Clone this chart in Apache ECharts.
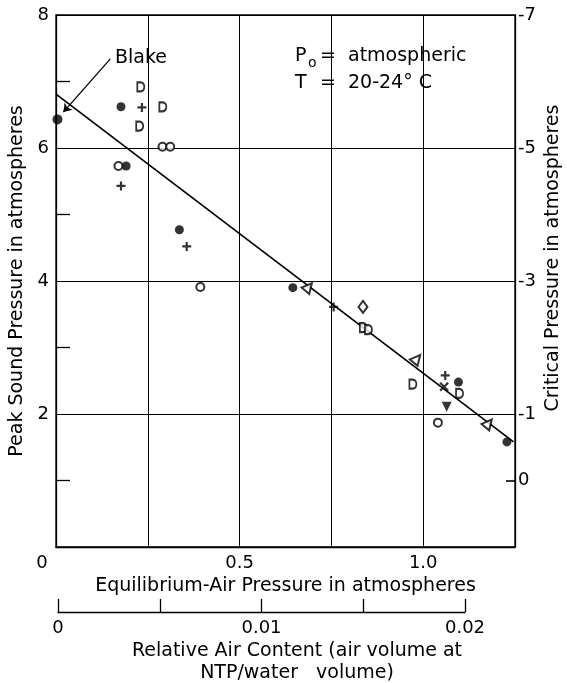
<!DOCTYPE html>
<html>
<head>
  <meta charset="utf-8">
</head>
<body style="margin: 0; background: #fff">
  <div id="container" style="width: 567px; height: 683px"></div>

  <script src="https://cdn.jsdelivr.net/npm/echarts@6/dist/echarts.min.js"></script>
  <script type="text/javascript">
    // values: [equilibrium-air pressure (atm), peak sound pressure (atm)]
    const blakePts = [[0.004, 6.43]];
    const filledCircles = [[0.177, 6.62], [0.191, 5.73], [0.336, 4.77], [0.645, 3.90], [1.096, 2.48], [1.228, 1.58]];
    const openCircles = [[0.170, 5.73], [0.290, 6.02], [0.311, 6.02], [0.393, 3.91], [1.040, 1.87]];
    const plusPts = [[0.234, 6.61], [0.177, 5.43], [0.356, 4.52], [0.756, 3.61], [1.060, 2.58]];
    const dPts = [[0.231, 6.92], [0.228, 6.33], [0.291, 6.62], [0.837, 3.30], [0.851, 3.27], [0.972, 2.45], [1.099, 2.31]];
    const trianglePts = [[0.688, 3.91], [0.983, 2.83], [1.178, 1.86]];
    const diamondPts = [[0.836, 3.61]];
    const crossPts = [[1.057, 2.41]];
    const downTrianglePts = [[1.064, 2.11]];
    const fitLine = [[0, 6.81], [1.246, 1.58]];
    // Blake annotation arrow (start, end) in data units
    const blakeArrow = [[0.148, 7.34], [0.02, 6.54]];

    const xLabels = ['0', '0.5', '1.0'];          // main x axis
    const yLabels = [2, 4, 6, 8];                 // left axis
    const rightLabels = [-7, -5, -3, -1, 0];      // critical pressure axis
    const airLabels = ['0', '0.01', '0.02'];      // relative air content

    const FONT = 'DejaVu Sans';
    const INK = '#000';

    var dom = document.getElementById('container');
    var myChart = echarts.init(dom, null, { renderer: 'canvas' });

    const openStyle = { color: '#fff', borderColor: INK, borderWidth: 2 };
    const strokeStyle = { color: INK, borderColor: INK, borderWidth: 2.2 };

    function scatter(name, data, symbol, size, style, extra) {
      return Object.assign({
        name: name,
        type: 'scatter',
        data: data,
        symbol: symbol,
        symbolSize: size,
        itemStyle: style,
        z: 5
      }, extra || {});
    }

    var option = {
      animation: false,
      backgroundColor: '#fff',
      textStyle: { fontFamily: FONT, color: INK },
      grid: [
        { left: 56, right: 52, top: 15, bottom: 136, show: true, borderColor: INK, borderWidth: 1.3, outerBoundsMode: 'none' },
        { left: 58, right: 102, top: 600, height: 12, outerBoundsMode: 'none' }
      ],
      xAxis: [
        {
          type: 'value', gridIndex: 0, min: 0, max: 1.25, interval: 0.25,
          axisLine: { show: true, lineStyle: { color: INK, width: 1.3 } },
          axisTick: { show: false },
          splitLine: { show: true, lineStyle: { color: INK, width: 1 } },
          axisLabel: {
            margin: 7, fontSize: 18, color: INK, fontFamily: FONT,
            formatter: function (v) {
              var i = Math.round(v / 0.5);
              if (Math.abs(v - i * 0.5) > 1e-6 || i > 2) return '';
              return i === 0 ? '{z|' + xLabels[0] + '}' : xLabels[i];
            },
            rich: { z: { fontSize: 18, fontFamily: FONT, color: INK, padding: [0, 28, 0, 0] } }
          },
          name: 'Equilibrium-Air Pressure in atmospheres',
          nameLocation: 'middle', nameGap: 27,
          nameTextStyle: { fontSize: 19, color: INK, fontFamily: FONT }
        },
        {
          type: 'value', gridIndex: 1, min: 0, max: 0.02, interval: 0.005,
          axisLine: { show: true, lineStyle: { color: INK, width: 1.3 } },
          axisTick: { show: true, inside: true, length: 13, lineStyle: { color: INK, width: 1.3 } },
          splitLine: { show: false },
          axisLabel: {
            margin: 7, fontSize: 18, color: INK, fontFamily: FONT, showMaxLabel: true,
            formatter: function (v) {
              var i = Math.round(v / 0.01);
              if (Math.abs(v - i * 0.01) > 1e-7) return '';
              return airLabels[i] || '';
            }
          }
        }
      ],
      yAxis: [
        {
          type: 'value', gridIndex: 0, min: 0, max: 8, interval: 2, position: 'left',
          axisLine: { show: true, lineStyle: { color: INK, width: 1.3 } },
          axisTick: { show: false, inside: true },
          minorTick: { show: true, splitNumber: 2, length: 14, lineStyle: { color: INK, width: 1.3 } },
          splitLine: { show: true, lineStyle: { color: INK, width: 1 } },
          axisLabel: {
            margin: 7, fontSize: 18, color: INK, fontFamily: FONT,
            formatter: function (v) { return yLabels.indexOf(v) >= 0 ? String(v) : ''; }
          },
          name: 'Peak Sound Pressure in atmospheres',
          nameLocation: 'middle', nameGap: 25,
          nameTextStyle: { fontSize: 19, color: INK, fontFamily: FONT }
        },
        {
          type: 'value', gridIndex: 0, min: -7, max: 1, interval: 2, inverse: true, position: 'right',
          axisLine: { show: true, lineStyle: { color: INK, width: 1.3 } },
          axisTick: { show: false },
          minorTick: { show: false },
          splitLine: { show: false },
          axisLabel: {
            margin: 3, fontSize: 18, color: INK, fontFamily: FONT,
            customValues: rightLabels,
            formatter: function (v) { return String(v); }
          }
        },
        { type: 'value', gridIndex: 1, min: 0, max: 1, show: false }
      ],
      graphic: [
        { type: 'text', left: 115, top: 49, style: { text: 'Blake', fontSize: 19, fontFamily: FONT, fill: INK } },
        { type: 'text', left: 295, top: 47, style: { text: 'P', fontSize: 19, fontFamily: FONT, fill: INK } },
        { type: 'text', left: 308, top: 56, style: { text: 'o', fontSize: 14, fontFamily: FONT, fill: INK } },
        { type: 'text', left: 320, top: 47, style: { text: '=  atmospheric', fontSize: 19, fontFamily: FONT, fill: INK } },
        { type: 'text', left: 295, top: 74, style: { text: 'T', fontSize: 19, fontFamily: FONT, fill: INK } },
        { type: 'text', left: 320, top: 74, style: { text: '=  20-24° C', fontSize: 19, fontFamily: FONT, fill: INK } },
        {
          type: 'text', x: 553, y: 258, rotation: Math.PI / 2,
          style: { text: 'Critical Pressure in atmospheres', fontSize: 19, fontFamily: FONT, fill: INK, align: 'center', verticalAlign: 'middle' }
        },
        {
          type: 'text', x: 297, y: 662,
          style: {
            text: 'Relative Air Content (air volume at\nNTP/water   volume)',
            fontSize: 19, fontFamily: FONT, fill: INK, align: 'center', verticalAlign: 'middle', lineHeight: 22
          }
        }
      ],
      series: [
        {
          name: 'fit', type: 'line', data: fitLine, symbol: 'none', z: 3,
          lineStyle: { color: INK, width: 1.7 },
          // short inward tick on the right frame opposite the "0" label (critical pressure 0 = peak 1)
          markLine: {
            silent: true, symbol: 'none',
            lineStyle: { color: INK, width: 1.6, type: 'solid' },
            label: { show: false },
            data: [[{ coord: [1.2255, 1] }, { coord: [1.25, 1] }]]
          }
        },
        scatter('Blake', blakePts, 'circle', 10, { color: INK }, {
          markLine: {
            silent: true, symbol: ['none', 'arrow'], symbolSize: 8,
            lineStyle: { color: INK, width: 1.3, type: 'solid' },
            label: { show: false },
            data: [[{ coord: blakeArrow[0] }, { coord: blakeArrow[1] }]]
          }
        }),
        scatter('filled', filledCircles, 'circle', 9, { color: INK }),
        scatter('open', openCircles, 'circle', 8, openStyle),
        scatter('plus', plusPts, 'path://M0,5L10,5M5,0L5,10', 9, strokeStyle),
        scatter('D', dPts, 'path://M0,0L4,0C10,0 10,10 4,10L0,10Z', [7, 9], openStyle),
        scatter('triangle', trianglePts, 'triangle', 10, openStyle, { symbolRotate: -40 }),
        scatter('diamond', diamondPts, 'diamond', [9, 12], openStyle),
        scatter('cross', crossPts, 'path://M0,0L10,10M10,0L0,10', 8, strokeStyle),
        scatter('down', downTrianglePts, 'triangle', 10, { color: INK }, { symbolRotate: 180 })
      ]
    };

    myChart.setOption(option);
    window.addEventListener('resize', myChart.resize);
  </script>
</body>
</html>
